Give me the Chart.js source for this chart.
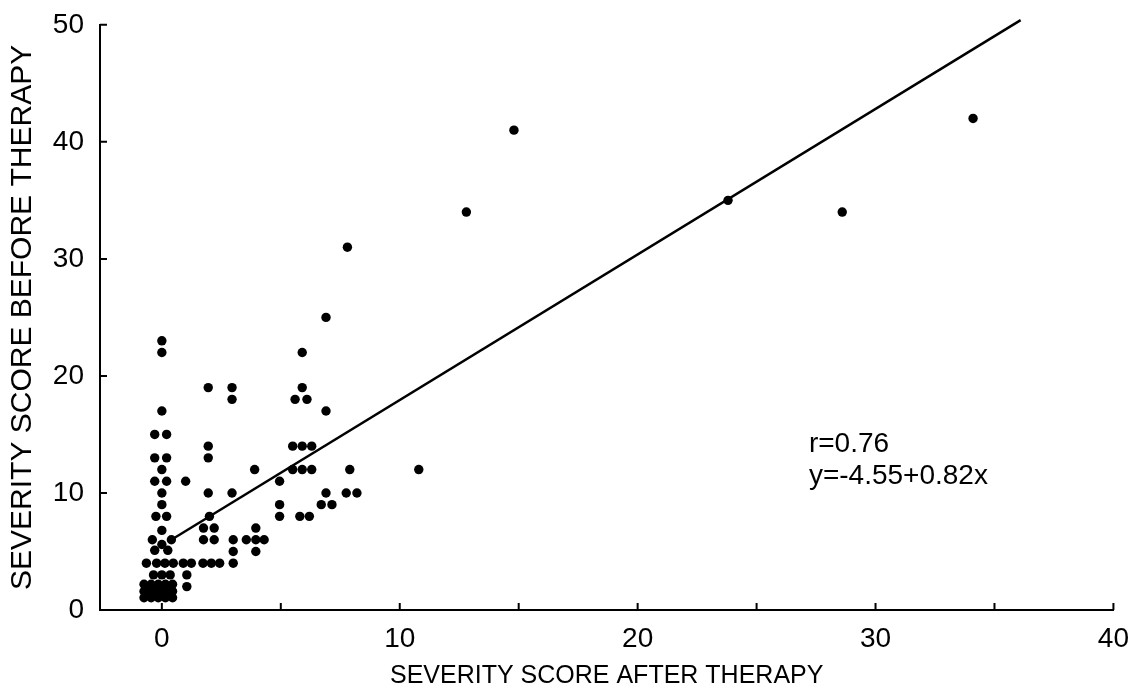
<!DOCTYPE html>
<html>
<head>
<meta charset="utf-8">
<script src="https://cdn.jsdelivr.net/npm/chart.js@4.4.1/dist/chart.umd.min.js"></script>
<style>
  html, body { margin: 0; padding: 0; background: #fff; }
</style>
</head>
<body>
<canvas id="scatterChart" width="1133" height="698"></canvas>
<script>
/* DATA */
const afterTherapy = [
  14.8, 12.8, 23.8, 28.6, 34.1, 10.8, 7.8, 6.9, 5.9, 5.9,
  5.6, 6.1, 6.9, 5.5, 5.9, 6.3, 5.5, 5.9, 6.3, 7.9,
  4.95, 6.9, 7.75, 8.2, 6.7, 7.15, 4.95, 4.95, 5.8, 6.2,
  1.95, 2.95, 2.95, 1.95, 1.95, 3.9, 1, 1.95, 2.95, 2,
  1.75, 2.2, 1.75, 2.2, 3, 3, 3.95, 3.55, 3.95, 4.3, 3.95,
  -0.65, -0.22, 0.13, 0.48, 0.9, 1.24, 1.73, 2.08, 2.43, 3,
  1.05, 1.05, -0.35, 0, 0.35,
  0, 0, 0, -0.3, 0.2, -0.3, 0.2, 0, -0.3, 0.2, 0, 0, -0.25, 0.2,
  0, -0.4, 0.4, 0, -0.3, 0.25,
  // the solid block of overlapping points at (0, 1-2)
  -0.75, -0.45, -0.15, 0.15, 0.45,
  -0.6, -0.3, 0, 0.3,
  -0.75, -0.45, -0.15, 0.15, 0.45,
  -0.6, -0.3, 0, 0.3,
  -0.75, -0.45, -0.15, 0.15, 0.45
];
const beforeTherapy = [
  41, 34, 35, 34, 42, 12, 31, 25, 22, 19,
  18, 18, 17, 14, 14, 14, 12, 12, 12, 12,
  11, 10, 10, 10, 9, 9, 9, 8, 8, 8,
  19, 19, 18, 14, 13, 12, 11, 10, 10, 8,
  7, 7, 6, 6, 6, 5, 7, 6, 6, 6, 5,
  4, 4, 4, 4, 4, 4, 4, 4, 4, 4,
  3, 2, 3, 3, 3,
  23, 22, 17, 15, 15, 13, 13, 12, 11, 11, 10, 9, 8, 8,
  6.8, 6, 6, 5.6, 5.1, 5.1,
  2.2, 2.2, 2.2, 2.2, 2.2,
  1.9, 1.9, 1.9, 1.9,
  1.6, 1.6, 1.6, 1.6, 1.6,
  1.3, 1.3, 1.3, 1.3,
  1.05, 1.05, 1.05, 1.05, 1.05
];

// regression line as drawn (end points)
const fitAfter = [0.4, 36.1];
const fitBefore = [6.0, 50.4];

const xTicks = [0, 5, 10, 15, 20, 25, 30, 35, 40];
const xLabelled = [0, 10, 20, 30, 40];
const yTicks = [0, 10, 20, 30, 40, 50];

const statLines = ["r=0.76", "y=-4.55+0.82x"];
const statX = 27.2;
const statY = [14.2, 11.4];

const FONT = "'Liberation Sans', Arial, Helvetica, sans-serif";

/* ticks drawn inward + the r / equation text */
const inwardTicks = {
  id: "inwardTicks",
  afterDatasetsDraw(chart) {
    const { ctx, chartArea: a, scales: { x, y } } = chart;
    ctx.save();
    ctx.strokeStyle = "#000";
    ctx.lineWidth = 2;
    ctx.beginPath();
    x.ticks.forEach(t => {
      const px = x.getPixelForValue(t.value);
      ctx.moveTo(px, a.bottom);
      ctx.lineTo(px, a.bottom - 7);
    });
    y.ticks.forEach(t => {
      if (t.value === 0) return;
      const py = y.getPixelForValue(t.value);
      ctx.moveTo(a.left, py);
      ctx.lineTo(a.left + 7, py);
    });
    ctx.stroke();

    ctx.fillStyle = "#000";
    ctx.font = "28px " + FONT;
    ctx.textBaseline = "middle";
    ctx.textAlign = "left";
    statLines.forEach((s, i) => {
      ctx.fillText(s, x.getPixelForValue(statX), y.getPixelForValue(statY[i]));
    });
    ctx.restore();
  }
};

new Chart(document.getElementById("scatterChart"), {
  type: "scatter",
  data: {
    datasets: [
      {
        data: afterTherapy.map((v, i) => ({ x: v, y: beforeTherapy[i] })),
        backgroundColor: "#000",
        borderWidth: 0,
        pointRadius: 4.7
      },
      {
        data: fitAfter.map((v, i) => ({ x: v, y: fitBefore[i] })),
        showLine: true,
        borderColor: "#000",
        borderWidth: 2.5,
        pointRadius: 0,
        clip: false
      }
    ]
  },
  options: {
    responsive: false,
    animation: false,
    devicePixelRatio: 1,
    layout: { padding: { top: 20, right: 18, left: 0, bottom: 0 } },
    plugins: {
      legend: { display: false },
      tooltip: { enabled: false }
    },
    scales: {
      x: {
        type: "linear",
        min: -2.6,
        max: 40,
        afterBuildTicks: s => { s.ticks = xTicks.map(v => ({ value: v })); },
        afterFit: s => { s.height = 88; },
        grid: { display: false },
        border: { color: "#000", width: 2 },
        ticks: {
          color: "#000",
          font: { family: FONT, size: 28 },
          padding: 4,
          maxRotation: 0,
          autoSkip: false,
          callback: v => xLabelled.includes(v) ? String(v) : ""
        },
        title: {
          display: true,
          text: "SEVERITY SCORE AFTER THERAPY",
          color: "#000",
          font: { family: FONT, size: 25 },
          padding: { top: 0, bottom: 7 }
        }
      },
      y: {
        type: "linear",
        min: 0,
        max: 50,
        afterBuildTicks: s => { s.ticks = yTicks.map(v => ({ value: v })); },
        afterFit: s => { s.width = 100; },
        grid: { display: false },
        border: { color: "#000", width: 2 },
        ticks: {
          color: "#000",
          font: { family: FONT, size: 28 },
          padding: 8
        },
        title: {
          display: true,
          text: "SEVERITY SCORE BEFORE THERAPY",
          color: "#000",
          font: { family: FONT, size: 30 },
          padding: { top: 5, bottom: 0 }
        }
      }
    }
  },
  plugins: [inwardTicks]
});
</script>
</body>
</html>
